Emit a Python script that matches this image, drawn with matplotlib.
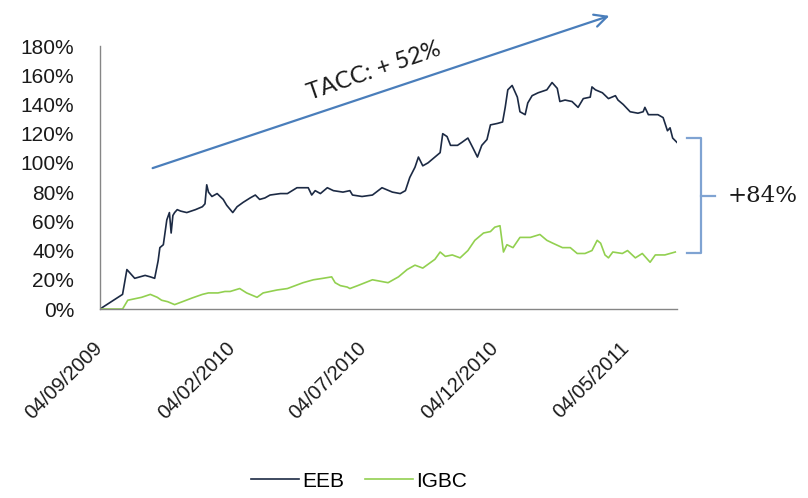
import matplotlib
matplotlib.use('Agg')
import matplotlib.pyplot as plt
import matplotlib.dates as mdates
from matplotlib.transforms import blended_transform_factory
import numpy as np
import pandas as pd

# ------ datos (dias desde 04/09/2009, rentabilidad acumulada en %)
start = pd.Timestamp('2009-09-04')

eeb_days = [0, 26, 31, 37, 40, 52, 58, 63, 67, 69, 73, 77, 80, 82, 84, 86, 89, 93,
            100, 110, 118, 121, 123, 125, 129, 135, 142, 146, 153, 158, 165, 173,
            179, 184, 190, 196, 208, 216, 227, 234, 240, 244, 248, 254, 262, 269,
            280, 288, 291, 302, 314, 325, 337, 346, 352, 357, 363, 367, 372, 378,
            386, 392, 395, 400, 404, 412, 417, 424, 430, 435, 440, 446, 450, 458,
            464, 467, 470, 475, 481, 484, 490, 493, 498, 505, 515, 521, 527, 530,
            536, 544, 551, 557, 565, 567, 571, 579, 586, 594, 597, 603, 611, 620,
            626, 628, 632, 643, 649, 654, 657, 660, 665]
eeb_vals = [0, 10, 27, 23, 21, 23, 22, 21, 33, 42, 44, 61, 66, 52, 64, 66, 68, 67,
            66, 68, 70, 72, 85, 80, 77, 79, 75, 71, 66, 70, 73, 76,
            78, 75, 76, 78, 79, 79, 83, 83, 83, 78, 81, 79, 83, 81,
            80, 81, 78, 77, 78, 83, 80, 79, 81, 90, 97, 104, 98, 100,
            104, 107, 120, 118, 112, 112, 114, 117, 110, 104, 112, 116, 126, 127,
            128, 138, 150, 153, 145, 135, 133, 141, 146, 148, 150, 155, 151, 142,
            143, 142, 138, 144, 145, 152, 150, 148, 144, 146, 143, 140, 135, 134,
            135, 138, 133, 133, 131, 122, 124, 117, 114]

igbc_days = [0, 26, 32, 48, 58, 66, 71, 78, 86, 95, 106, 118, 125, 136, 144, 150,
             161, 169, 181, 188, 204, 216, 234, 246, 257, 267, 271, 277, 285, 288,
             297, 314, 332, 344, 354, 363, 372, 386, 392, 398, 406, 415, 424, 432,
             442, 450, 455, 461, 465, 469, 476, 484, 496, 507, 515, 522, 533, 542,
             550, 559, 567, 573, 577, 582, 586, 591, 602, 608, 617, 625, 634, 640,
             651, 663]
igbc_vals = [0, 0, 6, 8, 10, 8, 6, 5, 3, 5, 7.5, 10, 11, 11, 12, 12,
             14, 11, 8, 11, 13, 14, 18, 20, 21, 22, 18, 16, 15, 14,
             16, 20, 18, 22, 27, 30, 28, 34, 39, 36, 37, 35, 40, 47,
             52, 53, 56, 57, 39, 44, 42, 49, 49, 51, 47, 45, 42, 42,
             38, 38, 40, 47, 45, 37, 35, 39, 38, 40, 35, 38, 32, 37,
             37, 39]

tick_dates = ['2009-09-04', '2010-02-04', '2010-07-04', '2010-12-04', '2011-05-04']
y_ticks = list(range(0, 181, 20))

eeb_x = start + pd.to_timedelta(eeb_days, unit='D')
igbc_x = start + pd.to_timedelta(igbc_days, unit='D')

# ------ figura
fig = plt.figure(figsize=(8.08, 4.98), dpi=100)
ax = fig.add_axes([100/808, 1 - 309/498, 577/808, 263/498])

ax.plot(eeb_x, eeb_vals, color='#1c2a44', lw=1.2, label='EEB')
ax.plot(igbc_x, igbc_vals, color='#92d050', lw=1.2, label='IGBC')

ax.set_xlim(start, eeb_x[-1])
ax.set_ylim(0, 180)
ax.set_yticks(y_ticks)
ax.set_yticklabels([f'{v}%' for v in y_ticks])
ax.set_xticks(pd.to_datetime(tick_dates))
ax.xaxis.set_major_formatter(mdates.DateFormatter('%d/%m/%Y'))

for s in ['top', 'right']:
    ax.spines[s].set_visible(False)
for s in ['left', 'bottom']:
    ax.spines[s].set_color('#868686')
    ax.spines[s].set_linewidth(1.0)

ax.tick_params(axis='y', length=0, pad=18.5, labelsize=15, labelcolor='#1a1a1a')
ax.tick_params(axis='x', length=0, pad=26, labelsize=14.5, labelcolor='#1a1a1a')
for lab in ax.get_yticklabels() + ax.get_xticklabels():
    lab.set_family('Liberation Sans')
for lab in ax.get_xticklabels():
    lab.set_rotation(45)
    lab.set_ha('right')
    lab.set_va('center')
    lab.set_rotation_mode('anchor')

# flecha TACC
ax.annotate('', xy=(612/808, 1 - 15/498), xytext=(150/808, 1 - 169/498),
            xycoords='figure fraction', textcoords='figure fraction',
            arrowprops=dict(arrowstyle='->,head_length=0.9,head_width=0.45',
                            color='#4a7ebb', lw=1.6))
fig.text(374/808, 1 - 71/498, 'TACC: + 52%', rotation=19, fontsize=17,
         family='Lato', ha='center', va='center', color='#1a1a1a',
         rotation_mode='anchor')

# llave +84%
tr = blended_transform_factory(ax.transAxes, ax.transData)
top_v = eeb_vals[-1] + 3
bot_v = igbc_vals[-1] - 1
mid_v = (top_v + bot_v) / 2
bc = '#7fa3d2'
ax.plot([1.017, 1.042, 1.042, 1.017], [top_v, top_v, bot_v, bot_v],
        transform=tr, color=bc, lw=1.6, clip_on=False)
ax.plot([1.042, 1.066], [mid_v, mid_v], transform=tr, color=bc, lw=1.6,
        clip_on=False)
ax.text(1.087, mid_v, '+84%', transform=tr, fontsize=16.5, family='DejaVu Serif',
        ha='left', va='center', color='#1a1a1a')

leg = fig.legend(loc='center', bbox_to_anchor=(359/808, 1 - 481/498), ncol=2,
                 frameon=False, handlelength=2.3, handletextpad=0.15,
                 columnspacing=1.0, prop={'family': 'Liberation Sans', 'size': 15})

fig.savefig('out.png', dpi=100)
